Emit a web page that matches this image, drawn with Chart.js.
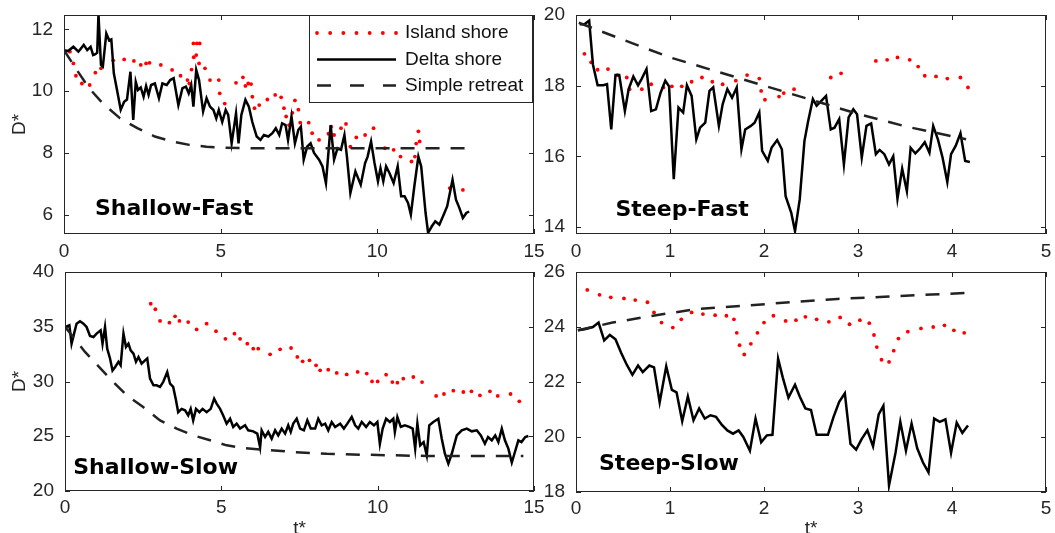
<!DOCTYPE html>
<html>
<head>
<meta charset="utf-8">
<script src="https://cdn.jsdelivr.net/npm/chart.js@4.4.1/dist/chart.umd.min.js"></script>
<style>
  html, body { margin: 0; padding: 0; background: #fff; width: 1055px; height: 533px; overflow: hidden; }
  .panel { position: absolute; }
</style>
</head>
<body>
<div class="panel" style="left:0;top:0;width:545px;height:262px"><canvas id="c1"></canvas></div>
<div class="panel" style="left:530px;top:0;width:525px;height:262px"><canvas id="c2"></canvas></div>
<div class="panel" style="left:0;top:262px;width:545px;height:280px"><canvas id="c3"></canvas></div>
<div class="panel" style="left:530px;top:262px;width:525px;height:280px"><canvas id="c4"></canvas></div>
<script>
// series names and panel names
const seriesNames = ["Island shore", "Delta shore", "Simple retreat"];
const panelNames = ["Shallow-Fast", "Steep-Fast", "Shallow-Slow", "Steep-Slow"];

// tick labels
const xTicksShallow = [0, 5, 10, 15];
const xTicksSteep = [0, 1, 2, 3, 4, 5];
const yTicksSF = [6, 8, 10, 12];
const yTicksStF = [14, 16, 18, 20];
const yTicksSS = [20, 25, 30, 35, 40];
const yTicksStS = [18, 20, 22, 24, 26];

// Shallow-Fast  [t*, D*]
const sfIsland = [[0.19,11.28],[0.3,10.9],[0.38,10.5],[0.57,10.25],[0.82,10.2],[1.0,10.6],[1.18,10.74],
  [1.57,11.0],[1.92,11.03],[2.23,10.98],[2.45,10.85],[2.62,10.9],[2.73,10.92],[3.09,10.85],[3.45,10.69],
  [3.72,10.5],[3.94,10.36],[4.0,10.25],[4.07,10.7],[4.13,11.55],[4.14,11.1],[4.22,11.17],[4.24,11.55],
  [4.24,10.47],[4.31,10.9],[4.33,11.55],[4.5,10.74],[4.66,10.36],[4.94,10.36],[4.97,9.93],[5.13,9.6],
  [5.49,10.27],[5.71,10.45],[5.79,10.17],[5.88,10.25],[5.97,10.23],[6.01,9.82],[6.08,9.45],[6.23,9.55],
  [6.49,9.73],[6.74,9.88],[6.93,9.8],[7.02,9.45],[7.09,9.18],[7.18,8.9],[7.29,9.3],[7.37,9.7],[7.48,9.4],
  [7.54,8.98],[7.81,8.98],[7.92,8.64],[8.14,8.42],[8.44,8.62],[8.53,8.85],[8.62,8.58],[8.84,8.8],[9.0,8.94],
  [9.14,8.2],[9.33,8.5],[9.61,8.58],[9.88,8.8],[10.24,8.15],[10.52,8.1],[10.74,7.88],[11.09,7.72],
  [11.2,7.88],[11.24,8.3],[11.31,8.7],[11.35,8.37],[12.31,6.86],[12.73,6.8]];
const sfDelta = [[0,11.33],[0.13,11.3],[0.3,11.44],[0.46,11.28],[0.63,11.5],[0.74,11.33],[0.85,11.44],
  [0.93,11.17],[1.0,11.2],[1.06,11.25],[1.1,12.5],[1.18,10.85],[1.24,10.8],[1.35,11.87],[1.44,11.65],
  [1.51,11.68],[1.59,10.58],[1.68,10.1],[1.81,9.4],[1.92,9.66],[2.01,9.73],[2.12,10.63],[2.21,9.07],
  [2.29,10.3],[2.36,10.04],[2.45,10.12],[2.54,9.82],[2.62,10.17],[2.7,9.88],[2.78,10.2],[2.9,10.25],
  [3.03,9.77],[3.14,10.25],[3.28,10.2],[3.39,10.36],[3.5,10.42],[3.65,9.55],[3.78,10.1],[3.89,10.15],
  [3.98,9.93],[4.06,10.2],[4.13,9.5],[4.22,10.69],[4.31,10.36],[4.44,9.34],[4.55,9.77],[4.66,9.5],
  [4.77,9.39],[4.86,9.12],[4.94,9.39],[5.05,9.0],[5.16,9.39],[5.24,9.23],[5.35,8.31],[5.49,9.28],
  [5.57,8.31],[5.66,9.23],[5.79,9.72],[5.9,9.5],[6.01,9.0],[6.15,8.53],[6.27,8.42],[6.38,8.58],[6.52,8.53],
  [6.65,8.64],[6.76,8.8],[6.87,8.58],[6.96,8.96],[7.07,8.9],[7.15,8.42],[7.26,9.18],[7.37,8.31],[7.48,8.75],
  [7.56,8.85],[7.65,7.78],[7.76,8.2],[7.87,8.31],[7.98,8.0],[8.14,7.78],[8.25,7.56],[8.36,7.02],[8.51,8.9],
  [8.62,7.78],[8.73,8.15],[8.84,8.1],[8.95,8.58],[9.03,7.88],[9.14,6.7],[9.3,7.4],[9.47,6.97],[9.61,7.67],
  [9.69,7.88],[9.8,8.37],[9.91,7.67],[10.02,7.08],[10.1,7.5],[10.19,7.08],[10.28,7.56],[10.39,7.34],
  [10.52,7.02],[10.65,7.56],[10.76,6.59],[10.87,6.59],[10.98,6.38],[11.07,6.0],[11.18,6.91],[11.31,7.88],
  [11.4,7.56],[11.54,6.05],[11.62,5.41],[11.74,5.62],[11.85,5.78],[11.98,5.67],[12.12,6.0],[12.23,6.27],
  [12.4,7.13],[12.51,6.48],[12.62,6.21],[12.73,5.89],[12.84,6.05],[12.93,6.1]];
const sfRetreat = [[0,11.33],[0.4,10.7],[0.8,10.1],[1.24,9.6],[1.79,9.12],[2.34,8.8],[2.9,8.53],
  [3.45,8.37],[4.0,8.26],[4.55,8.2],[5.1,8.17],[6.0,8.15],[8.0,8.15],[10.0,8.15],[12.9,8.15]];

// Steep-Fast
const stfIsland = [[0.09,18.9],[0.16,18.66],[0.23,18.45],[0.34,18.47],[0.44,18.3],[0.54,18.23],[0.57,17.9],
  [0.7,17.9],[0.8,18.04],[0.93,17.95],[1.02,17.98],[1.125,17.98],[1.23,18.11],[1.34,18.23],[1.45,18.11],
  [1.56,18.04],[1.7,18.14],[1.82,18.3],[1.95,18.2],[1.97,17.85],[2.01,17.6],[2.16,17.69],[2.21,17.79],
  [2.32,17.9],[2.71,18.23],[2.82,18.35],[3.19,18.7],[3.31,18.73],[3.42,18.8],[3.55,18.73],[3.64,18.54],
  [3.71,18.28],[3.83,18.26],[3.95,18.2],[4.09,18.23],[4.17,17.95]];
const stfDelta = [[0.04,19.74],[0.09,19.74],[0.14,19.84],[0.18,18.6],[0.23,18.01],[0.29,18.01],[0.33,18.04],
  [0.375,16.76],[0.42,18.3],[0.46,18.3],[0.52,17.28],[0.56,17.9],[0.61,18.26],[0.66,18.01],[0.7,18.2],
  [0.75,18.47],[0.8,17.28],[0.85,17.33],[0.9,17.8],[0.95,18.14],[0.99,17.98],[1.04,15.35],[1.09,17.38],
  [1.14,17.24],[1.18,18.01],[1.23,17.71],[1.28,16.48],[1.32,16.81],[1.375,16.95],[1.42,17.85],[1.46,17.95],
  [1.52,16.86],[1.56,17.47],[1.61,17.9],[1.66,17.66],[1.71,17.95],[1.76,16.2],[1.8,16.76],[1.86,16.86],
  [1.9,16.95],[1.95,17.24],[1.98,16.15],[2.04,15.87],[2.08,16.24],[2.14,16.46],[2.19,16.2],[2.23,14.87],
  [2.29,14.4],[2.33,13.88],[2.38,14.78],[2.43,16.43],[2.47,17.0],[2.52,17.62],[2.56,17.43],[2.61,17.57],
  [2.66,17.71],[2.71,16.76],[2.75,16.81],[2.8,17.05],[2.85,15.77],[2.9,17.1],[2.95,17.33],[2.99,17.19],
  [3.04,15.96],[3.09,16.86],[3.14,16.93],[3.19,16.06],[3.23,16.18],[3.28,16.06],[3.33,15.77],[3.375,16.0],
  [3.42,14.8],[3.47,15.65],[3.52,15.01],[3.56,16.24],[3.61,16.08],[3.66,16.22],[3.71,16.4],[3.76,16.1],
  [3.8,16.86],[3.85,16.48],[3.9,15.96],[3.95,15.27],[3.99,16.06],[4.04,16.3],[4.09,16.65],[4.14,15.87],
  [4.19,15.84]];
const stfRetreat = [[0.03,19.78],[0.5,19.3],[1.0,18.8],[1.5,18.4],[2.0,18.0],[2.5,17.6],[3.0,17.2],
  [3.5,16.85],[4.15,16.48]];

// Shallow-Slow
const ssIsland = [[2.74,37.1],[2.89,36.6],[3.04,35.53],[3.34,35.37],[3.52,35.95],[3.66,35.53],[3.94,35.43],
  [4.21,34.76],[4.53,35.28],[4.83,34.6],[5.13,33.9],[5.42,34.37],[5.6,33.9],[5.83,33.45],[6.02,33.0],
  [6.18,33.0],[6.56,32.48],[6.88,32.94],[7.23,33.06],[7.43,32.24],[7.6,31.84],[7.82,31.93],[8.03,31.48],
  [8.16,31.02],[8.42,31.08],[8.69,30.78],[9.01,30.65],[9.36,30.87],[9.65,30.72],[9.82,30.01],[10.0,30.01],
  [10.27,30.62],[10.47,29.95],[10.63,29.89],[10.82,30.26],[11.14,30.41],[11.42,29.95],[11.87,28.68],
  [12.12,28.86],[12.42,29.16],[12.74,29.04],[13.0,29.1],[13.27,28.74],[13.59,29.1],[13.84,28.68],
  [14.25,28.86],[14.53,28.19]];
const ssDelta = [[0,34.98],[0.14,35.13],[0.21,33.45],[0.29,34.37],[0.37,35.28],[0.48,35.5],[0.59,35.28],
  [0.69,34.98],[0.8,34.16],[0.91,34.06],[1.01,34.37],[1.14,34.67],[1.2,33.45],[1.28,34.98],[1.35,33.0],
  [1.44,32.1],[1.52,31.0],[1.6,31.3],[1.71,31.8],[1.78,31.48],[1.87,34.37],[1.95,33.15],[2.03,33.45],
  [2.1,32.85],[2.19,32.54],[2.27,31.8],[2.35,32.24],[2.45,31.63],[2.56,31.93],[2.63,32.1],[2.72,30.26],
  [2.83,29.65],[2.93,29.65],[3.04,29.5],[3.14,29.95],[3.27,30.87],[3.36,29.8],[3.46,29.5],[3.55,28.28],
  [3.62,27.2],[3.73,27.5],[3.84,27.37],[3.94,26.9],[4.02,27.5],[4.1,26.45],[4.19,27.5],[4.3,27.2],
  [4.4,27.5],[4.53,27.2],[4.66,27.5],[4.77,28.43],[4.85,27.98],[4.96,27.5],[5.06,26.9],[5.17,26.15],
  [5.28,26.6],[5.38,25.85],[5.49,26.15],[5.6,25.7],[5.76,26.0],[5.86,25.54],[6.02,25.45],[6.15,25.24],
  [6.24,24.0],[6.29,25.54],[6.4,24.93],[6.5,25.4],[6.61,24.78],[6.72,25.54],[6.82,25.08],[6.93,25.7],
  [7.04,25.24],[7.14,26.0],[7.22,25.4],[7.3,26.15],[7.41,26.6],[7.52,25.7],[7.64,25.54],[7.75,26.45],
  [7.86,25.7],[8.0,25.7],[8.1,26.6],[8.21,26.0],[8.32,26.15],[8.42,25.54],[8.53,26.3],[8.64,25.85],
  [8.8,26.15],[8.92,25.7],[9.03,26.15],[9.17,26.76],[9.28,26.0],[9.38,25.7],[9.49,26.3],[9.63,25.85],
  [9.75,26.3],[9.88,26.0],[9.99,26.3],[10.07,24.3],[10.16,25.7],[10.27,26.6],[10.39,26.3],[10.5,26.6],
  [10.55,25.4],[10.63,26.76],[10.74,25.85],[10.87,26.0],[11.01,25.85],[11.12,25.7],[11.2,23.87],
  [11.27,26.15],[11.36,24.17],[11.47,24.47],[11.57,23.26],[11.65,26.0],[11.78,26.3],[11.94,26.6],
  [12.05,24.78],[12.15,23.4],[12.26,22.5],[12.37,23.4],[12.53,25.08],[12.69,25.54],[12.85,25.7],
  [13.01,25.45],[13.17,25.54],[13.3,25.08],[13.43,24.32],[13.53,24.93],[13.65,24.63],[13.76,25.08],
  [13.86,24.47],[13.97,25.7],[14.07,24.63],[14.18,23.87],[14.29,22.6],[14.39,23.56],[14.5,24.63],
  [14.6,24.47],[14.72,24.93],[14.82,25.02]];
const ssRetreat = [[0,35.0],[0.64,32.7],[0.9,31.9],[1.44,30.26],[1.97,28.74],[2.5,27.67],[3.04,26.45],
  [3.57,25.7],[4.1,25.08],[4.64,24.63],[5.17,24.17],[5.7,23.93],[6.24,23.8],[7.3,23.56],[8.37,23.4],
  [9.43,23.32],[10.5,23.26],[11.57,23.2],[12.63,23.2],[14.66,23.2]];

// Steep-Slow
const stsIsland = [[0.12,25.35],[0.25,25.17],[0.37,25.08],[0.51,25.04],[0.63,24.98],[0.76,24.9],[0.83,24.53],
  [0.91,24.16],[1.03,23.98],[1.12,24.28],[1.23,24.53],[1.35,24.47],[1.48,24.43],[1.6,24.41],[1.68,24.28],
  [1.71,23.79],[1.74,23.34],[1.79,23.0],[1.86,23.39],[1.93,23.79],[2.0,24.16],[2.1,24.41],[2.23,24.22],
  [2.34,24.25],[2.44,24.37],[2.56,24.28],[2.69,24.19],[2.81,24.35],[2.91,24.1],[3.02,24.25],[3.12,24.14],
  [3.17,23.71],[3.2,23.27],[3.25,22.81],[3.33,22.73],[3.38,23.14],[3.43,23.58],[3.53,23.83],[3.67,23.95],
  [3.8,24.0],[3.92,24.06],[4.02,23.88],[4.13,23.79]];
const stsDelta = [[0.02,23.88],[0.09,23.92],[0.18,24.0],[0.24,24.16],[0.3,23.51],[0.36,23.71],[0.42,23.55],
  [0.48,23.06],[0.54,22.63],[0.6,22.26],[0.66,22.6],[0.71,22.36],[0.78,22.6],[0.83,22.53],[0.89,21.26],
  [0.96,22.57],[1.02,21.71],[1.07,21.62],[1.13,20.57],[1.19,21.47],[1.25,20.61],[1.31,21.04],[1.37,20.67],
  [1.43,20.79],[1.49,20.73],[1.55,20.45],[1.61,20.24],[1.67,20.12],[1.73,20.24],[1.78,20.0],[1.85,19.5],
  [1.91,20.67],[1.97,19.81],[2.03,20.06],[2.09,20.08],[2.15,22.85],[2.2,22.16],[2.26,21.43],[2.33,21.9],
  [2.38,21.47],[2.44,21.04],[2.5,20.98],[2.56,20.08],[2.62,20.08],[2.68,20.08],[2.74,20.73],[2.8,21.28],
  [2.86,21.59],[2.92,19.75],[2.98,19.54],[3.04,19.93],[3.1,20.24],[3.16,19.66],[3.22,20.82],[3.27,21.13],
  [3.33,18.24],[3.4,19.44],[3.45,20.55],[3.51,19.5],[3.57,20.49],[3.63,19.59],[3.69,19.08],[3.75,18.71],
  [3.81,20.67],[3.87,20.55],[3.93,20.64],[3.99,19.42],[4.05,20.52],[4.11,20.15],[4.17,20.42]];
const stsRetreat = [[0.02,23.88],[0.39,24.16],[0.8,24.4],[1.28,24.65],[1.78,24.77],[2.28,24.9],[2.78,25.02],
  [3.28,25.1],[3.78,25.18],[4.17,25.24]];

const axisColor = "#262626";
const sansFont = "'Liberation Sans', Arial, sans-serif";

const frameTicks = {
  id: "frameTicks",
  afterDatasetsDraw(chart) {
    const { ctx, chartArea: a, scales: { x, y } } = chart;
    const len = 5;
    ctx.save();
    ctx.strokeStyle = axisColor;
    ctx.lineWidth = 1;
    ctx.beginPath();
    x.ticks.forEach(t => {
      const px = Math.round(x.getPixelForValue(t.value)) + 0.5;
      ctx.moveTo(px, a.bottom); ctx.lineTo(px, a.bottom - len);
      ctx.moveTo(px, a.top); ctx.lineTo(px, a.top + len);
    });
    y.ticks.forEach(t => {
      const py = Math.round(y.getPixelForValue(t.value)) + 0.5;
      ctx.moveTo(a.left, py); ctx.lineTo(a.left + len, py);
      ctx.moveTo(a.right, py); ctx.lineTo(a.right - len, py);
    });
    ctx.stroke();
    ctx.strokeRect(a.left + 0.5, a.top + 0.5, a.right - a.left - 1, a.bottom - a.top - 1);
    ctx.restore();
  }
};

const panelText = {
  id: "panelText",
  afterDraw(chart, args, opts) {
    const { ctx, chartArea: a, scales: { x, y } } = chart;
    ctx.save();
    ctx.fillStyle = "#000";
    ctx.font = "bold 22px 'DejaVu Sans', Verdana, sans-serif";
    ctx.textBaseline = "alphabetic";
    ctx.fillText(opts.name, x.getPixelForValue(opts.at[0]), y.getPixelForValue(opts.at[1]));

    if (opts.legend) {
      const w = 223, h = 87;
      const bx = a.right - 225, by = a.top;
      ctx.fillStyle = "#fff";
      ctx.fillRect(bx, by, w, h);
      ctx.strokeStyle = axisColor;
      ctx.lineWidth = 1;
      ctx.strokeRect(bx + 0.5, by + 0.5, w, h);
      const rows = [by + 18, by + 44.5, by + 70.5];
      const x0 = bx + 8, x1 = bx + 87;
      // dotted sample
      ctx.fillStyle = "red";
      for (let i = 0; i < 7; i++) {
        ctx.beginPath();
        ctx.arc(x0 + i * (x1 - x0) / 6, rows[0], 1.9, 0, Math.PI * 2);
        ctx.fill();
      }
      // solid sample
      ctx.strokeStyle = "#000";
      ctx.lineWidth = 2.5;
      ctx.beginPath(); ctx.moveTo(x0, rows[1]); ctx.lineTo(x1, rows[1]); ctx.stroke();
      // dashed sample
      ctx.strokeStyle = "#222";
      ctx.setLineDash([14, 19]);
      ctx.beginPath(); ctx.moveTo(x0, rows[2]); ctx.lineTo(x1, rows[2]); ctx.stroke();
      ctx.setLineDash([]);
      ctx.fillStyle = "#111";
      ctx.font = "19px " + sansFont;
      ctx.textBaseline = "middle";
      seriesNames.forEach((s, i) => ctx.fillText(s, bx + 96, rows[i]));
    }
    ctx.restore();
  }
};

function toXY(arr) {
  return arr.map(p => ({ x: p[0], y: p[1] }));
}

function noPadding(s) {
  s.paddingTop = 0;
  s.paddingBottom = 0;
  s.paddingLeft = 0;
  s.paddingRight = 0;
}

function makePanel(p) {
  const ctx = document.getElementById(p.id).getContext("2d");
  new Chart(ctx, {
    type: "scatter",
    data: {
      datasets: [
        { label: seriesNames[0], data: toXY(p.island), showLine: false, pointRadius: 1.9,
          pointBorderWidth: 0, backgroundColor: "red", order: 3 },
        { label: seriesNames[1], data: toXY(p.delta), showLine: true, borderColor: "#000",
          borderWidth: 2.5, pointRadius: 0, order: 2 },
        { label: seriesNames[2], data: toXY(p.retreat), showLine: true, borderColor: "#222",
          borderWidth: 2.5, borderDash: [14, 11], pointRadius: 0, order: 1 }
      ]
    },
    options: {
      responsive: true,
      maintainAspectRatio: false,
      animation: false,
      events: [],
      layout: { padding: p.pad },
      plugins: {
        legend: { display: false },
        tooltip: { enabled: false },
        panelText: { name: p.name, at: p.labelAt, legend: p.legend }
      },
      scales: {
        x: {
          type: "linear", min: 0, max: p.xMax,
          grid: { display: false, drawTicks: false },
          border: { display: false },
          afterBuildTicks: s => { s.ticks = p.xTicks.map(v => ({ value: v })); },
          afterFit: s => { s.height = p.xHeight; noPadding(s); },
          ticks: { color: axisColor, padding: p.xPad, font: { family: sansFont, size: 19, lineHeight: 1 } },
          title: { display: p.xTitle, text: "t*", color: axisColor, padding: { top: 0, bottom: 2 },
            font: { family: sansFont, size: 19 } }
        },
        y: {
          type: "linear", min: p.yMin, max: p.yMax,
          grid: { display: false, drawTicks: false },
          border: { display: false },
          afterBuildTicks: s => { s.ticks = p.yTicks.map(v => ({ value: v })); },
          afterFit: s => { s.width = p.yWidth; noPadding(s); },
          ticks: { color: axisColor, padding: 11, font: { family: sansFont, size: 19, lineHeight: 1 } },
          title: { display: p.yTitle, text: "D*", color: axisColor, padding: { top: 8.6, bottom: 0 },
            font: { family: sansFont, size: 19 } }
        }
      }
    },
    plugins: [frameTicks, panelText]
  });
}

const panels = [
  { id: "c1", name: panelNames[0], island: sfIsland, delta: sfDelta, retreat: sfRetreat,
    xMax: 15, xTicks: xTicksShallow, yMin: 5.37, yMax: 12.47, yTicks: yTicksSF,
    yWidth: 64, xHeight: 28, xPad: 8.5, pad: { left: 0, right: 11, top: 15, bottom: 0 },
    labelAt: [0.99, 5.99], legend: true, yTitle: true, xTitle: false },
  { id: "c2", name: panelNames[1], island: stfIsland, delta: stfDelta, retreat: stfRetreat,
    xMax: 5, xTicks: xTicksSteep, yMin: 13.8, yMax: 20, yTicks: yTicksStF,
    yWidth: 46, xHeight: 28, xPad: 8.5, pad: { left: 0, right: 9, top: 15, bottom: 0 },
    labelAt: [0.42, 14.31], legend: false, yTitle: false, xTitle: false },
  { id: "c3", name: panelNames[2], island: ssIsland, delta: ssDelta, retreat: ssRetreat,
    xMax: 15, xTicks: xTicksShallow, yMin: 20, yMax: 40, yTicks: yTicksSS,
    yWidth: 65, xHeight: 51, xPad: 7, pad: { left: 0, right: 11, top: 10, bottom: 0 },
    labelAt: [0.26, 21.55], legend: false, yTitle: true, xTitle: true },
  { id: "c4", name: panelNames[3], island: stsIsland, delta: stsDelta, retreat: stsRetreat,
    xMax: 5, xTicks: xTicksSteep, yMin: 18, yMax: 26, yTicks: yTicksStS,
    yWidth: 46, xHeight: 50, xPad: 7, pad: { left: 0, right: 9, top: 10, bottom: 0 },
    labelAt: [0.245, 18.8], legend: false, yTitle: false, xTitle: true }
];

panels.forEach(makePanel);
</script>
</body>
</html>
